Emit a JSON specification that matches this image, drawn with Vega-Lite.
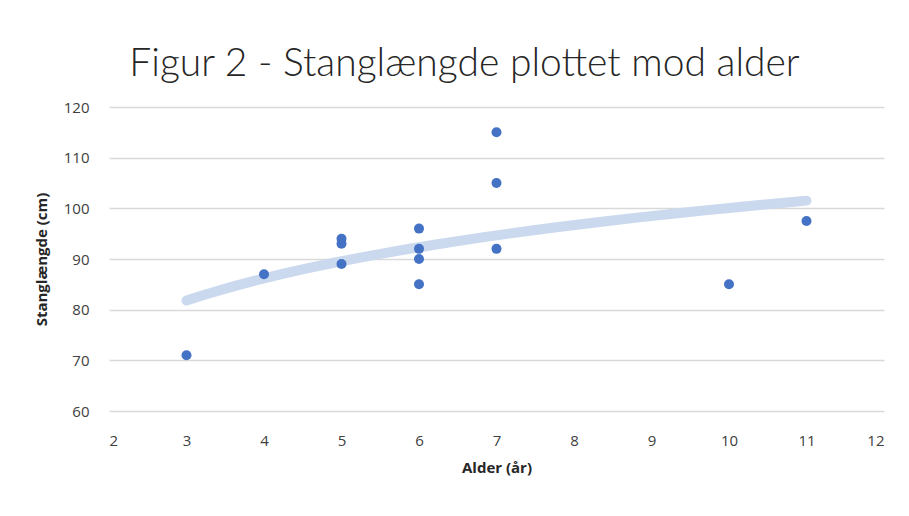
{
  "$schema": "https://vega.github.io/schema/vega-lite/v6.json",
  "autosize": "none",
  "width": 775,
  "height": 304,
  "padding": {"left": 109, "top": 107, "right": 25, "bottom": 105},
  "background": "white",
  "title": {
    "text": "Figur 2 - Stanglængde plottet mod alder",
    "font": "Lato",
    "fontSize": 39,
    "fontWeight": 300,
    "color": "#262626",
    "anchor": "middle",
    "dx": -32,
    "offset": 16
  },
  "data": {
    "values": [
      {"Alder": 3, "Stanglaengde": 71},
      {"Alder": 4, "Stanglaengde": 87},
      {"Alder": 5, "Stanglaengde": 94},
      {"Alder": 5, "Stanglaengde": 93},
      {"Alder": 5, "Stanglaengde": 89},
      {"Alder": 6, "Stanglaengde": 96},
      {"Alder": 6, "Stanglaengde": 92},
      {"Alder": 6, "Stanglaengde": 90},
      {"Alder": 6, "Stanglaengde": 85},
      {"Alder": 7, "Stanglaengde": 115},
      {"Alder": 7, "Stanglaengde": 105},
      {"Alder": 7, "Stanglaengde": 92},
      {"Alder": 10, "Stanglaengde": 85},
      {"Alder": 11, "Stanglaengde": 97.5}
    ]
  },
  "config": {
    "view": {"stroke": null},
    "axis": {
      "labelFont": "Open Sans",
      "labelFontSize": 15,
      "labelColor": "#404040",
      "titleFont": "Open Sans",
      "titleFontSize": 15,
      "titleFontWeight": "bold",
      "titleColor": "#262626",
      "domain": false,
      "ticks": false
    }
  },
  "encoding": {
    "x": {
      "field": "Alder",
      "type": "quantitative",
      "scale": {"domain": [2, 12], "nice": false},
      "axis": {"title": "Alder (år)", "values": [2,3,4,5,6,7,8,9,10,11,12], "grid": false, "labelPadding": 22, "titlePadding": 12}
    },
    "y": {
      "field": "Stanglaengde",
      "type": "quantitative",
      "scale": {"domain": [60, 120], "nice": false, "zero": false},
      "axis": {"title": "Stanglængde (cm)", "values": [60,70,80,90,100,110,120], "grid": true, "gridColor": "#d9d9d9", "gridWidth": 1.5, "labelPadding": 20, "titlePadding": 14}
    }
  },
  "layer": [
    {
      "transform": [{"regression": "Stanglaengde", "on": "Alder", "method": "log"}],
      "mark": {"type": "line", "color": "#cbd9ee", "strokeWidth": 10, "strokeCap": "round"}
    },
    {
      "mark": {"type": "circle", "color": "#4472c4", "opacity": 1, "size": 100}
    }
  ]
}
